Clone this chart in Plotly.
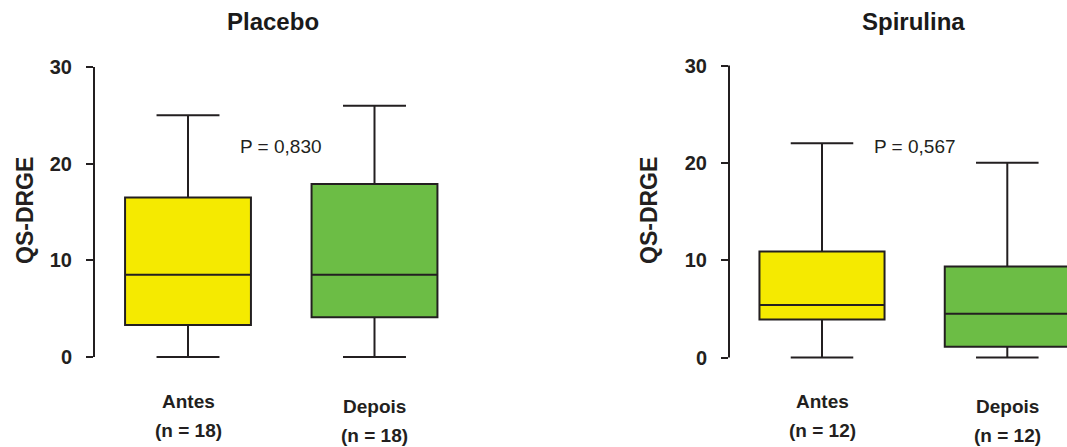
import plotly.graph_objects as go

# ---------------- data ----------------
groups = ["Antes", "Depois"]
panel_titles = ["Placebo", "Spirulina"]
p_values = ["P = 0,830", "P = 0,567"]

placebo_n = [18, 18]
placebo_min = [0, 0]
placebo_q1 = [3.3, 4.1]
placebo_median = [8.5, 8.5]
placebo_q3 = [16.5, 17.9]
placebo_max = [25, 26]

spirulina_n = [12, 12]
spirulina_min = [0, 0]
spirulina_q1 = [3.9, 1.1]
spirulina_median = [5.4, 4.5]
spirulina_q3 = [10.9, 9.35]
spirulina_max = [22, 20]

y_ticks = [0, 10, 20, 30]
y_title = "QS-DRGE"

# ---------------- style ----------------
W, H = 1067, 447
FONT = "Liberation Sans, Arial, Helvetica, sans-serif"
INK = "#231f20"
fills = ["#f5ea00", "#6cbd45"]

# pixel layout helpers (left axis px, first-category px, spacing px, right px, y0 px, y30 px)
panels = [
    dict(ax_px=94, c0=188, step=186.5, right=480, y0=357.0, y30=67.0, title_x=273, p_x=281),
    dict(ax_px=729, c0=822, step=185.3, right=1067, y0=357.5, y30=65.5, title_x=913, p_x=915),
]
stats = [
    (placebo_min, placebo_q1, placebo_median, placebo_q3, placebo_max, placebo_n),
    (spirulina_min, spirulina_q1, spirulina_median, spirulina_q3, spirulina_max, spirulina_n),
]

fig = go.Figure()
shapes = []
annotations = []
layout_axes = {}

for k, (pan, st) in enumerate(zip(panels, stats)):
    xa = "x" if k == 0 else "x2"
    ya = "y" if k == 0 else "y2"
    mn, q1, md, q3, mx, nn = st
    for i, g in enumerate(groups):
        fig.add_trace(go.Box(
            x=[i], q1=[q1[i]], median=[md[i]], q3=[q3[i]],
            lowerfence=[mn[i]], upperfence=[mx[i]],
            fillcolor=fills[i], line=dict(color=INK, width=2),
            width=0.675, whiskerwidth=0.5, boxpoints=False,
            xaxis=xa, yaxis=ya, showlegend=False, name=g,
        ))
    ppu = (pan["y0"] - pan["y30"]) / 30.0
    ylo_px = pan["y0"] + 0.5 * ppu
    yhi_px = pan["y30"] - 0.5 * ppu
    ydom = [(H - ylo_px) / H, (H - yhi_px) / H]
    xdom = [pan["ax_px"] / W, min(pan["right"] / W, 1.0)]
    xr = [(pan["ax_px"] - pan["c0"]) / pan["step"], (pan["right"] - pan["c0"]) / pan["step"]]
    xkey = "xaxis" if k == 0 else "xaxis2"
    ykey = "yaxis" if k == 0 else "yaxis2"
    layout_axes[xkey] = dict(domain=xdom, range=xr, visible=False, anchor=ya, automargin=False)
    layout_axes[ykey] = dict(
        domain=ydom, range=[-0.5, 30.5], anchor=xa, automargin=False,
        tickvals=y_ticks, ticks="outside", ticklen=7, tickwidth=2, tickcolor=INK,
        showgrid=False, zeroline=False, showline=False,
        tickfont=dict(family=FONT, size=20, color=INK, weight=700),
        ticklabelstandoff=10,
    )
    shapes.append(dict(type="line", xref="paper", yref=ya, x0=pan["ax_px"] / W, x1=pan["ax_px"] / W,
                       y0=y_ticks[0], y1=y_ticks[-1], line=dict(color=INK, width=2)))
    annotations.append(dict(text=panel_titles[k], xref="paper", yref="paper",
                            x=pan["title_x"] / W, y=(H - 22) / H, xanchor="center", yanchor="middle",
                            showarrow=False, font=dict(family=FONT, size=24, color="#1a1a1a", weight=700)))
    annotations.append(dict(text=y_title, xref="paper", yref="paper", textangle=-90,
                            x=(25 if k == 0 else 649) / W, y=(H - 211) / H,
                            xanchor="center", yanchor="middle", showarrow=False,
                            font=dict(family=FONT, size=23, color=INK, weight=700)))
    annotations.append(dict(text=p_values[k], xref="paper", yref="paper",
                            x=pan["p_x"] / W, y=(H - 146) / H, xanchor="center", yanchor="middle",
                            showarrow=False, font=dict(family=FONT, size=19, color=INK)))
    for i, g in enumerate(groups):
        dy = 0 if i == 0 else 5
        annotations.append(dict(text=g, xref=xa, yref="paper", x=i, y=(H - (401 + dy)) / H,
                                xanchor="center", yanchor="middle", showarrow=False,
                                font=dict(family=FONT, size=19, color=INK, weight=700)))
        annotations.append(dict(text=f"(n = {nn[i]})", xref=xa, yref="paper", x=i, y=(H - (430 + dy)) / H,
                                xanchor="center", yanchor="middle", showarrow=False,
                                font=dict(family=FONT, size=19, color=INK, weight=700)))

fig.update_layout(
    width=W, height=H, margin=dict(l=0, r=0, t=0, b=0, pad=0, autoexpand=False),
    paper_bgcolor="white", plot_bgcolor="white",
    shapes=shapes, annotations=annotations, **layout_axes,
)
fig.write_html("out.html", config={"displayModeBar": False},
               post_script="document.body.style.margin='0';document.body.style.overflow='hidden';")
